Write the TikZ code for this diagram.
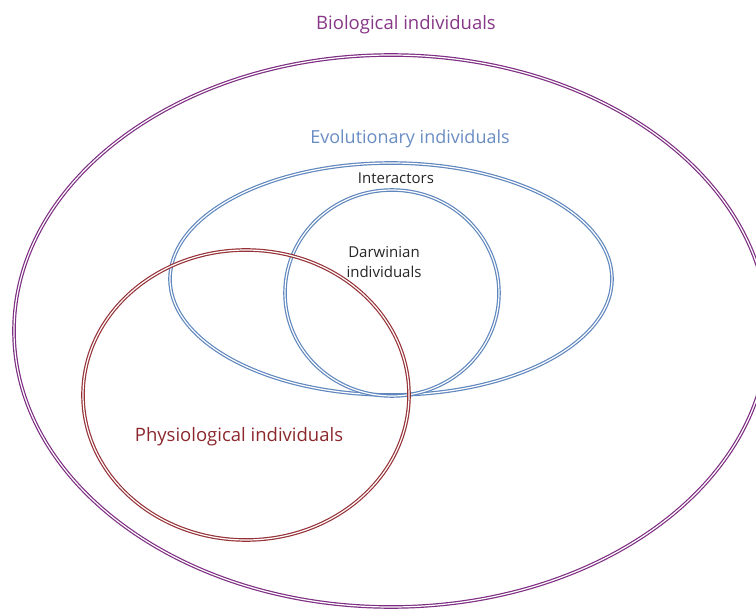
\documentclass[tikz,border=0pt]{standalone}
\usepackage{fontspec}
\setmainfont{Open Sans}
\definecolor{bioP}{RGB}{125,45,130}
\definecolor{bioT}{RGB}{135,55,135}
\definecolor{evoB}{RGB}{95,135,190}
\definecolor{evoT}{RGB}{105,140,195}
\definecolor{phyR}{RGB}{150,50,55}
\definecolor{phyT}{RGB}{140,40,45}
\begin{document}
\begin{tikzpicture}[x=1pt,y=-1pt,
  ring/.style={double=white,double distance=1.2pt,line width=1.2pt},
  lbl/.style={inner sep=0pt,align=center}]
\useasboundingbox (0,0) rectangle (756,610);
\clip (0,0) rectangle (756,610);
\draw[ring,bioP] (391,331) ellipse [x radius=377,y radius=276];
\draw[ring,evoB] (391,279) ellipse [x radius=221,y radius=116];
\draw[ring,evoB] (392,293) ellipse [x radius=107,y radius=103];
\draw[ring,phyR] (246,395) ellipse [x radius=163,y radius=145];
\node[lbl,text=bioT,font=\fontsize{18.5}{22}\selectfont] (bio) at (406,25) {Biological individuals};
\node[lbl,text=evoT,font=\fontsize{18}{22}\selectfont] (evo) at (410,139) {Evolutionary individuals};
\node[lbl,text=black!85,font=\fontsize{15}{18}\selectfont] (int) at (396,178) {Interactors};
\node[lbl,text=black!85,font=\fontsize{15}{20}\selectfont] (dar) at (384,262) {Darwinian\\individuals};
\node[lbl,text=phyT,font=\fontsize{18.5}{22}\selectfont] (phy) at (239,437) {Physiological individuals};
\end{tikzpicture}
\end{document}
